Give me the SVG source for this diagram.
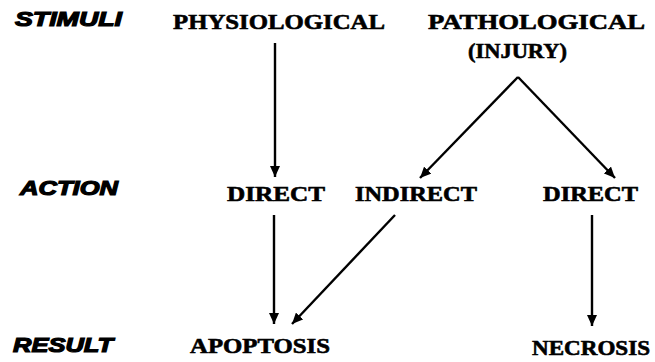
<svg xmlns="http://www.w3.org/2000/svg" width="655" height="362" viewBox="0 0 655 362">
<style>
.hd{font-family:"Liberation Sans",Arial,sans-serif;font-weight:bold;font-style:italic;font-size:20px;fill:#000;stroke:#000;stroke-width:1.2}
.lb{font-family:"Liberation Serif","Times New Roman",serif;font-weight:bold;font-size:21px;fill:#000;stroke:#000;stroke-width:0.6}
.ln{stroke:#000;stroke-width:2.4;fill:none;marker-end:url(#ah)}
</style>
<defs>
<marker id="ah" markerUnits="userSpaceOnUse" markerWidth="12" markerHeight="10" refX="11" refY="5" orient="auto">
<path d="M0,0 L11,5 L0,10 z" fill="#000"/>
</marker>
</defs>
<rect width="655" height="362" fill="#fff"/>
<g id="row-labels">
<text id="stimuli" class="hd" x="15" y="26" textLength="107" lengthAdjust="spacingAndGlyphs">STIMULI</text>
<text id="action" class="hd" x="20" y="195" textLength="98" lengthAdjust="spacingAndGlyphs">ACTION</text>
<text id="result" class="hd" x="13" y="352" textLength="100" lengthAdjust="spacingAndGlyphs">RESULT</text>
</g>
<g id="physiological"><text class="lb" x="173" y="29" textLength="212" lengthAdjust="spacingAndGlyphs">PHYSIOLOGICAL</text></g>
<g id="pathological"><text class="lb" x="428" y="29" textLength="217" lengthAdjust="spacingAndGlyphs">PATHOLOGICAL</text><text class="lb" x="468" y="58" textLength="99" lengthAdjust="spacingAndGlyphs">(INJURY)</text></g>
<g id="direct1"><text class="lb" x="227" y="201" textLength="98" lengthAdjust="spacingAndGlyphs">DIRECT</text></g>
<g id="indirect"><text class="lb" x="355" y="201" textLength="122" lengthAdjust="spacingAndGlyphs">INDIRECT</text></g>
<g id="direct2"><text class="lb" x="543" y="201" textLength="95" lengthAdjust="spacingAndGlyphs">DIRECT</text></g>
<g id="apoptosis"><text class="lb" x="190" y="353" textLength="140" lengthAdjust="spacingAndGlyphs">APOPTOSIS</text></g>
<g id="necrosis"><text class="lb" x="532" y="355" textLength="118" lengthAdjust="spacingAndGlyphs">NECROSIS</text></g>
<g id="connectors">
<path class="ln" d="M275,43 L275,177"/>
<path class="ln" d="M518,77 L420,178"/>
<path class="ln" d="M518,77 L615,178"/>
<path class="ln" d="M274,215 L274,324"/>
<path class="ln" d="M395,215 L292,324"/>
<path class="ln" d="M592,215 L592,326"/>
</g>
</svg>
